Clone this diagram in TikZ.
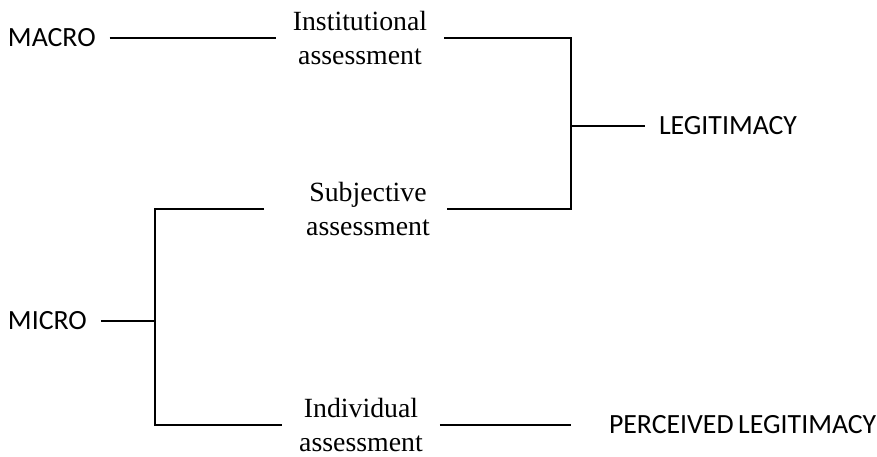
\documentclass[tikz,border=0pt]{standalone}
\usepackage{fontspec}
\setmainfont{Liberation Serif}
\newfontfamily\capsfont{Carlito}
\begin{document}
\begin{tikzpicture}[
  x=1pt, y=-1pt,
  level/.style={inner sep=0pt, outer xsep=14pt, anchor=west, font=\capsfont\fontsize{27.8}{32}\selectfont},
  assess/.style={inner sep=0pt, outer xsep=17pt, align=center, font=\fontsize{27.8}{34}\selectfont},
  link/.style={line width=2.3pt}
]
\useasboundingbox (0,0) rectangle (877,457);

% Levels on the left
\node[level] (macro) at (-6,38) {MACRO};
\node[level] (micro) at (-6,321) {MICRO};

% Assessments in the middle
\node[assess] (inst) at (360,38) {Institutional\\assessment};
\node[assess] (subj) at (368,209) {Subjective\\assessment};
\node[assess] (indiv) at (361,425) {Individual\\assessment};

% Outcomes on the right
\node[level] (legit) at (645,126) {LEGITIMACY};
\node[level] (perc) at (595,425) {PERCEIVED\,LEGITIMACY};

% Junctions
\coordinate (rjoin) at (571,126);
\coordinate (ljoin) at (155,321);

% Macro connections
\draw[link] (macro.east) -- (macro.east -| inst.west);
\draw[link] (inst.east) -| (rjoin) |- (subj.east);
\draw[link] (rjoin) -- (legit.west);

% Micro connections
\draw[link] (micro.east) -- (ljoin);
\draw[link] ([xshift=-25pt]subj.west) -| (ljoin) |- (indiv.west);
\draw[link, shorten >=24pt] (indiv.east) -- (indiv.east -| perc.west);

\end{tikzpicture}
\end{document}
